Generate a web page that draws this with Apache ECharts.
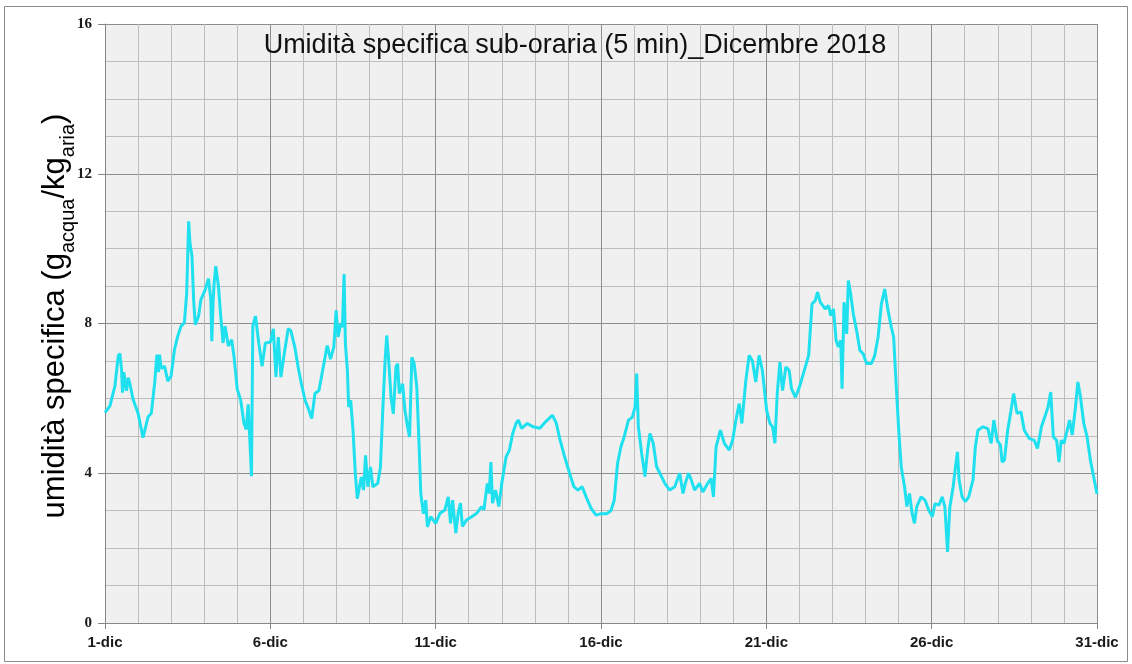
<!DOCTYPE html>
<html>
<head>
<meta charset="utf-8">
<script src="https://cdn.jsdelivr.net/npm/echarts@6/dist/echarts.min.js"></script>
<style>html,body{margin:0;padding:0;background:#fff}#c{width:1132px;height:664px}</style>
</head>
<body>
<div id="c"></div>
<script>
// x = days since 1 Dec 00:00, y = specific humidity (g_acqua / kg_aria)
const tickLabels = ['1-dic', '6-dic', '11-dic', '16-dic', '21-dic', '26-dic', '31-dic'];

const dec01to06 = [
  [0.00,5.62],[0.15,5.80],[0.30,6.33],[0.40,7.13],[0.45,7.20],[0.50,6.77],[0.53,6.15],[0.57,6.70],
  [0.60,6.50],[0.65,6.20],[0.70,6.55],[0.75,6.40],[0.85,5.97],[1.00,5.60],[1.15,4.95],[1.20,4.90],
  [1.30,5.50],[1.40,5.60],[1.50,6.40],[1.57,7.17],[1.62,6.70],[1.65,7.17],[1.70,6.80],[1.80,6.86],
  [1.90,6.46],[2.00,6.60],[2.10,7.30],[2.20,7.66],[2.30,7.93],[2.40,8.02],[2.47,8.80],[2.53,10.73],
  [2.57,10.15],[2.63,9.80],[2.68,8.64],[2.73,7.97],[2.83,8.20],[2.90,8.64],[3.03,8.90],[3.13,9.20],
  [3.20,8.64],[3.23,7.53],[3.27,8.60],[3.30,9.08],[3.35,9.53],[3.43,9.00],[3.50,8.20],[3.57,7.48],
  [3.63,7.93],[3.73,7.40],[3.83,7.57],[3.90,7.13],[4.00,6.24],[4.10,5.97],[4.20,5.35],[4.27,5.17],
  [4.33,5.84],[4.37,5.08],[4.43,3.92],[4.47,7.93],[4.55,8.20],[4.65,7.48],[4.75,6.86],[4.85,7.48]
];
const dec06to11 = [
  [5.00,7.50],[5.09,7.86],[5.17,6.57],[5.24,7.64],[5.32,6.57],[5.42,7.19],[5.54,7.86],[5.62,7.81],
  [5.74,7.37],[5.84,6.84],[5.94,6.39],[6.05,5.95],[6.15,5.73],[6.25,5.46],[6.35,6.13],[6.47,6.21],
  [6.60,6.84],[6.72,7.41],[6.82,7.05],[6.92,7.37],[6.99,8.35],[7.05,7.64],[7.13,8.00],[7.18,7.90],
  [7.23,9.32],[7.27,7.46],[7.33,6.75],[7.37,5.77],[7.43,5.95],[7.50,5.15],[7.57,3.99],[7.63,3.32],
  [7.75,3.90],[7.82,3.55],[7.88,4.48],[7.95,3.64],[8.03,4.17],[8.10,3.64],[8.25,3.73],[8.33,4.17],
  [8.40,5.68],[8.47,7.00],[8.52,7.68],[8.58,7.00],[8.65,6.03],[8.72,5.59],[8.80,6.84],[8.85,6.93],
  [8.90,6.13],[9.00,6.39],[9.07,5.68],[9.15,5.24],[9.21,4.97],[9.28,7.10],[9.35,6.93],[9.43,6.30],
  [9.50,4.70],[9.55,3.46],[9.63,2.92],[9.70,3.28],[9.75,2.57],[9.85,2.84]
];
const dec11to16 = [
  [10.00,2.66],[10.13,2.93],[10.28,3.02],[10.38,3.37],[10.45,2.66],[10.51,3.28],[10.61,2.40],[10.68,2.93],
  [10.75,3.20],[10.81,2.58],[10.93,2.75],[11.09,2.84],[11.24,2.93],[11.39,3.11],[11.46,3.02],[11.56,3.73],
  [11.62,3.46],[11.67,4.30],[11.72,3.20],[11.81,3.55],[11.91,3.11],[12.00,3.73],[12.13,4.44],[12.23,4.62],
  [12.33,5.06],[12.43,5.33],[12.50,5.42],[12.60,5.20],[12.77,5.33],[12.95,5.24],[13.15,5.20],[13.33,5.38],
  [13.53,5.55],[13.65,5.33],[13.75,4.93],[13.90,4.44],[14.05,4.00],[14.18,3.64],[14.30,3.55],[14.43,3.64],
  [14.55,3.37],[14.70,3.06],[14.85,2.88]
];
const dec16to21 = [
  [15.00,2.92],[15.17,2.92],[15.30,3.00],[15.40,3.28],[15.50,4.26],[15.60,4.70],[15.70,4.97],[15.83,5.42],
  [15.95,5.50],[16.03,5.77],[16.08,6.66],[16.13,5.24],[16.23,4.53],[16.33,3.91],[16.41,4.62],[16.48,5.06],
  [16.58,4.80],[16.68,4.18],[16.78,4.00],[16.93,3.73],[17.08,3.55],[17.23,3.64],[17.38,4.00],[17.48,3.46],
  [17.55,3.73],[17.65,4.00],[17.73,3.82],[17.83,3.55],[17.98,3.73],[18.08,3.50],[18.23,3.73],[18.33,3.86],
  [18.40,3.37],[18.48,4.70],[18.61,5.15],[18.73,4.80],[18.88,4.62],[18.98,4.88],[19.08,5.42],[19.18,5.86],
  [19.26,5.33],[19.38,6.48],[19.48,7.15],[19.58,7.00],[19.68,6.44],[19.78,7.15],[19.88,6.75]
];
const dec21to26 = [
  [20.01,5.68],[20.11,5.33],[20.19,5.24],[20.26,4.80],[20.33,6.13],[20.41,6.97],[20.49,6.21],[20.59,6.84],
  [20.69,6.75],[20.76,6.26],[20.88,6.03],[21.00,6.30],[21.12,6.66],[21.28,7.15],[21.38,8.52],[21.48,8.61],
  [21.55,8.84],[21.63,8.57],[21.78,8.39],[21.88,8.48],[21.95,8.21],[22.03,8.39],[22.11,7.55],[22.18,7.37],
  [22.25,7.55],[22.29,6.26],[22.35,8.57],[22.43,7.72],[22.48,9.15],[22.55,8.79],[22.63,8.26],[22.73,7.81],
  [22.83,7.28],[22.93,7.19],[23.03,6.93],[23.18,6.93],[23.28,7.15],[23.38,7.64],[23.48,8.52],[23.58,8.92],
  [23.68,8.35],[23.78,7.90],[23.85,7.64],[23.93,6.30],[24.01,5.06],[24.08,4.17],[24.18,3.64],[24.25,3.11],
  [24.33,3.46],[24.41,2.92],[24.48,2.66],[24.55,3.11],[24.68,3.37],[24.80,3.28],[24.91,3.02]
];
const dec26to31 = [
  [25.02,2.84],[25.10,3.19],[25.22,3.15],[25.32,3.37],[25.40,3.10],[25.48,1.90],[25.55,3.10],[25.65,3.64],
  [25.72,4.17],[25.78,4.57],[25.83,3.82],[25.92,3.37],[26.02,3.24],[26.12,3.37],[26.25,3.82],[26.32,4.70],
  [26.40,5.15],[26.55,5.24],[26.70,5.19],[26.80,4.80],[26.88,5.42],[26.98,4.88],[27.08,4.75],[27.13,4.30],
  [27.20,4.35],[27.30,5.15],[27.40,5.68],[27.48,6.13],[27.58,5.60],[27.70,5.64],[27.80,5.15],[27.95,4.93],
  [28.10,4.88],[28.20,4.66],[28.32,5.24],[28.42,5.50],[28.52,5.77],[28.60,6.17],[28.68,4.97],[28.78,4.88],
  [28.85,4.30],[28.92,4.88],[29.00,4.80],[29.10,5.15],[29.17,5.42],[29.25,5.02],[29.35,5.77],[29.42,6.44],
  [29.50,6.04],[29.60,5.33],[29.70,4.97],[29.80,4.35],[29.90,3.90],[30.00,3.45]
];

const series5min = [].concat(dec01to06, dec06to11, dec11to16, dec16to21, dec21to26, dec26to31);

const FONT = 'Liberation Sans, Arial, sans-serif';
const chart = echarts.init(document.getElementById('c'));
chart.setOption({
  animation: false,
  backgroundColor: '#ffffff',
  title: {
    text: 'Umidità specifica sub-oraria (5 min)_Dicembre 2018',
    left: 570, top: 27, textAlign: 'center',
    textStyle: { fontFamily: FONT, fontSize: 27, fontWeight: 'normal', color: '#111' }
  },
  graphic: [
    { type: 'rect', shape: { x: 4.5, y: 6.5, width: 1123, height: 655 },
      style: { fill: 'none', stroke: '#8a8a8a', lineWidth: 1 }, silent: true, z: -10 },
    { type: 'text', x: 52, y: 316, rotation: Math.PI / 2,
      style: {
        text: '{a|umidità specifica (g}{s|acqua}{a|/kg}{s|aria}{a|)}',
        align: 'center', verticalAlign: 'middle',
        rich: {
          a: { fontFamily: FONT, fontSize: 31, color: '#111', lineHeight: 38, verticalAlign: 'bottom' },
          s: { fontFamily: FONT, fontSize: 20, color: '#111', lineHeight: 20, verticalAlign: 'bottom', padding: [0, 0, -7, 0] }
        }
      }
    }
  ],
  grid: { left: 105, right: 35, top: 24, bottom: 41, show: true, backgroundColor: '#f0f0f0', borderWidth: 0 },
  xAxis: {
    type: 'value', min: 0, max: 30, interval: 5,
    axisLine: { show: true, lineStyle: { color: '#868686', width: 1 } },
    axisTick: { show: true, length: 6, lineStyle: { color: '#868686' } },
    axisLabel: {
      formatter: v => tickLabels[Math.round(v / 5)],
      fontFamily: FONT, fontSize: 15, fontWeight: 'bold', color: '#1a1a1a', margin: 12
    },
    splitLine: { show: true, lineStyle: { color: '#8e8e8e', width: 1 } },
    minorTick: { show: false, splitNumber: 5 },
    minorSplitLine: { show: true, lineStyle: { color: '#bdbdbd', width: 1 } }
  },
  yAxis: {
    type: 'value', min: 0, max: 16, interval: 4,
    axisLine: { show: true, lineStyle: { color: '#868686', width: 1 } },
    axisTick: { show: true, length: 7, lineStyle: { color: '#868686' } },
    axisLabel: { fontFamily: 'Liberation Serif, serif', fontSize: 15, fontWeight: 'bold', color: '#1a1a1a', margin: 13 },
    splitLine: { show: true, lineStyle: { color: '#8e8e8e', width: 1 } },
    minorTick: { show: false, splitNumber: 4 },
    minorSplitLine: { show: true, lineStyle: { color: '#bdbdbd', width: 1 } }
  },
  series: [{
    type: 'line', data: series5min, showSymbol: false, smooth: false,
    lineStyle: { color: '#1FE0EE', width: 3 }, itemStyle: { color: '#1FE0EE' }
  }]
});
</script>
</body>
</html>
